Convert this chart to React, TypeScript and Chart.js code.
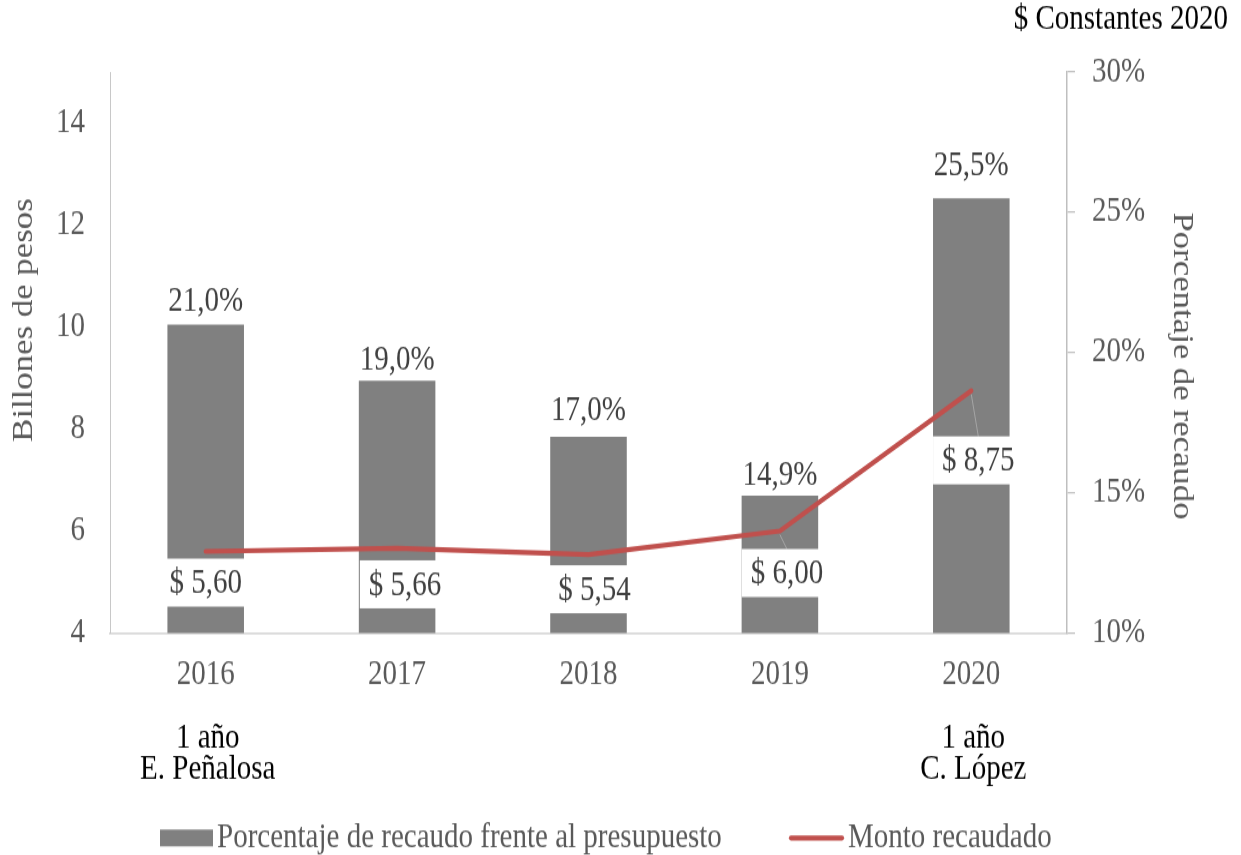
import React, { useEffect, useRef } from 'react';
import { Chart, registerables } from 'chart.js';

Chart.register(...registerables);

// ---------- data ----------
const categories = ['2016', '2017', '2018', '2019', '2020'];
const porcentajeRecaudo = [21.0, 19.0, 17.0, 14.9, 25.5];
const montoRecaudado = [5.6, 5.66, 5.54, 6.0, 8.75];
const leftTicks = [4, 6, 8, 10, 12, 14];
const rightTicks = [10, 15, 20, 25, 30];
const notesTop = ['1 año', '', '', '', '1 año'];
const notesBottom = ['E. Peñalosa', '', '', '', 'C. López'];

// ---------- label placement (style) ----------
const pctLabelDy = [19, 17, 21, 17, 27];
const montoLabelDx = [0, 8, 6, 7, 7];
const montoLabelDy = [27, 31, 30, 36, 59];
const montoLeader = [false, false, false, true, true];

// ---------- layout ----------
const W = 1241;
const H = 713;
const SY = 1.2;
const FONT = '"Liberation Serif", "Times New Roman", serif';
const FS = 29;
const TICK_COLOR = '#595959';
const LABEL_COLOR = '#404040';
const BAR_COLOR = '#808080';
const LINE_COLOR = '#C0504D';

const fmtPct = (v: number) => v.toFixed(1).replace('.', ',') + '%';
const fmtMonto = (v: number) => '$ ' + v.toFixed(2).replace('.', ',');

const extrasPlugin = {
  id: 'extras',
  afterDraw(chart: any) {
    const ctx = chart.ctx as CanvasRenderingContext2D;
    const xs = chart.scales.x;
    const ys = chart.scales.y;
    const y1s = chart.scales.y1;
    ctx.save();
    ctx.font = `${FS}px ${FONT}`;
    ctx.textBaseline = 'middle';
    ctx.textAlign = 'center';

    // bar labels
    ctx.fillStyle = LABEL_COLOR;
    porcentajeRecaudo.forEach((v, i) => {
      const px = xs.getPixelForValue(i);
      const py = y1s.getPixelForValue(v);
      ctx.fillText(fmtPct(v), px, py - pctLabelDy[i]);
    });

    // line labels
    montoRecaudado.forEach((v, i) => {
      const px = xs.getPixelForValue(i);
      const py = ys.getPixelForValue(v);
      const lx = px + montoLabelDx[i];
      const ly = py + montoLabelDy[i];
      const txt = fmtMonto(v);
      const tw = ctx.measureText(txt).width;
      const bw = tw + 18;
      const bh = 40;
      const top = ly - 1 - bh / 2;
      if (montoLeader[i]) {
        ctx.strokeStyle = '#A6A6A6';
        ctx.lineWidth = 1;
        ctx.beginPath();
        ctx.moveTo(px, py + 3);
        ctx.lineTo(lx, top);
        ctx.stroke();
      }
      ctx.fillStyle = '#FFFFFF';
      ctx.fillRect(lx - bw / 2, top, bw, bh);
      ctx.fillStyle = LABEL_COLOR;
      ctx.fillText(txt, lx, ly);
    });

    // axis titles
    ctx.fillStyle = TICK_COLOR;
    ctx.save();
    ctx.translate(24, 266.7);
    ctx.rotate(-Math.PI / 2);
    ctx.fillText('Billones de pesos', 0, 0);
    ctx.restore();
    ctx.save();
    ctx.translate(1182, 305);
    ctx.rotate(Math.PI / 2);
    ctx.fillText('Porcentaje de recaudo', 0, 0);
    ctx.restore();

    // period notes
    ctx.fillStyle = '#000000';
    categories.forEach((_, i) => {
      const px = xs.getPixelForValue(i) + 2;
      if (notesTop[i]) ctx.fillText(notesTop[i], px, 615);
      if (notesBottom[i]) ctx.fillText(notesBottom[i], px, 641.7);
    });

    // units note
    ctx.textAlign = 'right';
    ctx.fillText('$ Constantes 2020', 1228, 16.7);

    // legend
    const ly = 698.3;
    ctx.textAlign = 'left';
    ctx.fillStyle = BAR_COLOR;
    ctx.fillRect(160, ly - 7, 53, 14);
    ctx.fillStyle = TICK_COLOR;
    ctx.fillText(chart.data.datasets[1].label, 217, ly);
    ctx.strokeStyle = LINE_COLOR;
    ctx.lineWidth = 4.2;
    ctx.lineCap = 'round';
    ctx.beginPath();
    ctx.moveTo(791, ly);
    ctx.lineTo(842, ly);
    ctx.stroke();
    ctx.fillStyle = TICK_COLOR;
    ctx.fillText(chart.data.datasets[0].label, 848, ly);

    ctx.restore();
  },
};

export default function App() {
  const ref = useRef<HTMLCanvasElement>(null);

  useEffect(() => {
    document.body.style.margin = '0';
    const font = { family: FONT, size: FS };
    const chart = new Chart(ref.current as HTMLCanvasElement, {
      type: 'bar',
      data: {
        labels: categories,
        datasets: [
          {
            type: 'line',
            label: 'Monto recaudado',
            data: montoRecaudado,
            yAxisID: 'y',
            borderColor: LINE_COLOR,
            backgroundColor: LINE_COLOR,
            borderWidth: 4.2,
            pointRadius: 0,
            tension: 0,
            borderCapStyle: 'round',
            borderJoinStyle: 'round',
            order: 0,
          } as any,
          {
            type: 'bar',
            label: 'Porcentaje de recaudo frente al presupuesto',
            data: porcentajeRecaudo,
            yAxisID: 'y1',
            backgroundColor: BAR_COLOR,
            barPercentage: 0.5,
            categoryPercentage: 0.8,
            order: 1,
          } as any,
        ],
      },
      options: {
        responsive: false,
        animation: false,
        devicePixelRatio: 1,
        layout: { padding: { top: 60, bottom: 125.5, left: 0, right: 0 } },
        plugins: {
          legend: { display: false },
          tooltip: { enabled: false },
        },
        scales: {
          x: {
            type: 'category',
            offset: true,
            grid: { display: false, drawTicks: false },
            border: { display: true, color: '#D9D9D9', width: 1.7 },
            ticks: { padding: 17, color: TICK_COLOR, font, maxRotation: 0 },
            afterFit: (s: any) => {
              s.height = 60;
            },
          },
          y: {
            type: 'linear',
            position: 'left',
            min: 4,
            max: 15,
            grid: { display: false, drawTicks: false },
            border: { display: true, color: '#C8C8C8', width: 1 },
            ticks: { padding: 25, color: TICK_COLOR, font },
            afterBuildTicks: (s: any) => {
              s.ticks = leftTicks.map((v) => ({ value: v }));
            },
            afterFit: (s: any) => {
              s.width = 110;
            },
          },
          y1: {
            type: 'linear',
            position: 'right',
            min: 10,
            max: 30,
            grid: {
              display: true,
              drawOnChartArea: false,
              drawTicks: true,
              tickLength: 8,
              color: '#BFBFBF',
              lineWidth: 1.25,
            },
            border: { display: true, color: '#BFBFBF', width: 1.5 },
            ticks: {
              padding: 17,
              color: TICK_COLOR,
              font,
              callback: (v: any) => `${v}%`,
            },
            afterBuildTicks: (s: any) => {
              s.ticks = rightTicks.map((v) => ({ value: v }));
            },
            afterFit: (s: any) => {
              s.width = W - 1067;
            },
          },
        } as any,
      },
      plugins: [extrasPlugin],
    });
    return () => chart.destroy();
  }, []);

  return (
    <div
      style={{
        position: 'relative',
        width: W,
        height: 855,
        overflow: 'hidden',
      }}
    >
      <div
        style={{
          position: 'absolute',
          left: 0,
          top: 0,
          width: W,
          height: H,
          transform: `scaleY(${SY})`,
          transformOrigin: '0 0',
        }}
      >
        <canvas
          ref={ref}
          width={W}
          height={H}
          style={{ display: 'block', width: W, height: H }}
        />
      </div>
    </div>
  );
}
